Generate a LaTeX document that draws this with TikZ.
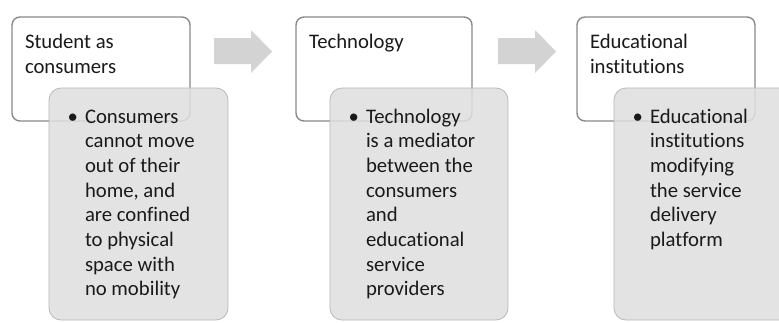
\documentclass[tikz,border=0pt]{standalone}
\usepackage{fontspec}
\setmainfont{Carlito}[Ligatures={NoCommon}]
\definecolor{boxline}{HTML}{8A8A8A}
\definecolor{grayfill}{HTML}{DFDFDF}
\definecolor{grayline}{HTML}{B8B8B8}
\definecolor{arrowfill}{HTML}{D3D3D3}
\definecolor{txt}{HTML}{1A1A1A}
\tikzset{
  headbox/.style={draw=boxline, line width=1.4pt, fill=white, rounded corners=8pt},
  detailbox/.style={draw=grayline, line width=0.8pt, fill=grayfill, fill opacity=0.86, rounded corners=12pt},
  flowarrow/.style={fill=arrowfill, draw=none},
  txtnode/.style={anchor=base west, inner sep=0pt, outer sep=0pt, text=txt,
    font=\fontsize{20.7}{24.7}\selectfont},
  bulnode/.style={anchor=base, inner sep=0pt, outer sep=0pt, text=txt,
    font=\fontsize{20.7}{24.7}\selectfont},
}
\begin{document}
\begin{tikzpicture}[x=1pt,y=-1pt]
\path[use as bounding box, fill=white] (0,0) rectangle (779,322);
\clip (0,0) rectangle (779,322);
% box 1
\path[headbox] (12,17) rectangle (190,121);
\node[txtnode] (t1) at (25,48.5) {\begin{tabular}[t]{@{}l@{}}Student as\\consumers\end{tabular}};
\path[detailbox] (49,88) rectangle (228,320);
\node[bulnode] (b1) at (72.7,123) {\textbullet};
\node[txtnode] (d1) at (85,123) {\begin{tabular}[t]{@{}l@{}}Consumers\\cannot move\\out of their\\home, and\\are confined\\to physical\\space with\\no mobility\end{tabular}};
\fill[flowarrow] (214,38) -- (251,38) -- (251,30) -- (272,51.5) -- (251,73) -- (251,64) -- (214,64) -- cycle;
% box 2
\path[headbox] (296,17) rectangle (472,121);
\node[txtnode] (t2) at (309,48.5) {\begin{tabular}[t]{@{}l@{}}Technology\end{tabular}};
\path[detailbox] (330,88) rectangle (508,320);
\node[bulnode] (b2) at (353.7,123) {\textbullet};
\node[txtnode] (d2) at (366,123) {\begin{tabular}[t]{@{}l@{}}Technology\\is a mediator\\between the\\consumers\\and\\educational\\service\\providers\end{tabular}};
\fill[flowarrow] (498,38) -- (535,38) -- (535,30) -- (556,51.5) -- (535,73) -- (535,64) -- (498,64) -- cycle;
% box 3
\path[headbox] (577,17) rectangle (755,121);
\node[txtnode] (t3) at (590,48.5) {\begin{tabular}[t]{@{}l@{}}Educational\\institutions\end{tabular}};
\path[detailbox] (614,88) rectangle (795,320);
\node[bulnode] (b3) at (637.7,123) {\textbullet};
\node[txtnode] (d3) at (650,123) {\begin{tabular}[t]{@{}l@{}}Educational\\institutions\\modifying\\the service\\delivery\\platform\end{tabular}};
\end{tikzpicture}
\end{document}
